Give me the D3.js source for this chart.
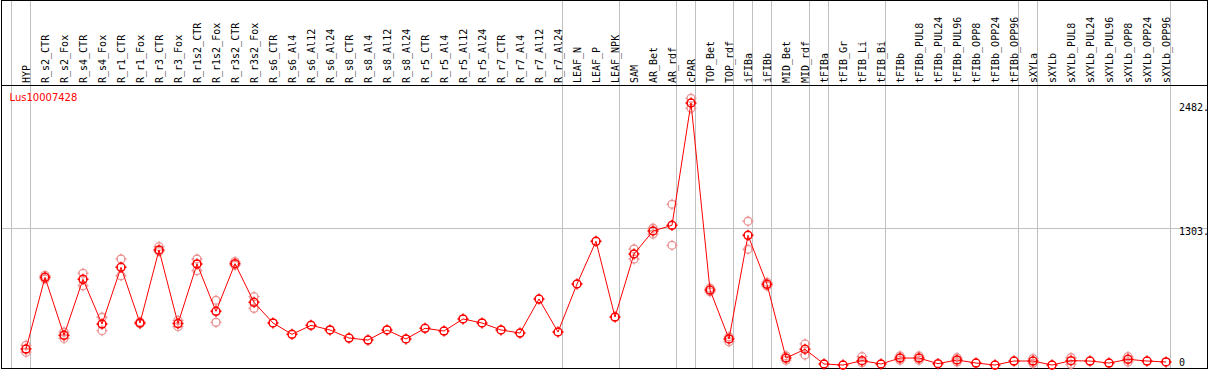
<!DOCTYPE html>
<html>
<head>
<meta charset="utf-8">
<script src="https://cdn.jsdelivr.net/npm/d3@7"></script>
<style>
  body { margin: 0; background: #fff; }
  svg { display: block; }
</style>
</head>
<body>
<svg id="chart" width="1209" height="370"></svg>
<script>
// sample names along the top
var samples = ['HYP', 'R_s2_CTR', 'R_s2_Fox', 'R_s4_CTR', 'R_s4_Fox', 'R_r1_CTR', 'R_r1_Fox',
  'R_r3_CTR', 'R_r3_Fox', 'R_r1s2_CTR', 'R_r1s2_Fox', 'R_r3s2_CTR', 'R_r3s2_Fox',
  'R_s6_CTR', 'R_s6_Al4', 'R_s6_Al12', 'R_s6_Al24', 'R_s8_CTR', 'R_s8_Al4', 'R_s8_Al12', 'R_s8_Al24',
  'R_r5_CTR', 'R_r5_Al4', 'R_r5_Al12', 'R_r5_Al24', 'R_r7_CTR', 'R_r7_Al4', 'R_r7_Al12', 'R_r7_Al24',
  'LEAF_N', 'LEAF_P', 'LEAF_NPK', 'SAM', 'AR_Bet', 'AR_rdf', 'cPAR', 'TOP_Bet', 'TOP_rdf',
  'iFIBa', 'iFIBb', 'MID_Bet', 'MID_rdf', 'tFIBa', 'tFIB_Gr', 'tFIB_Li', 'tFIB_Bi', 'tFIBb',
  'tFIBb_PUL8', 'tFIBb_PUL24', 'tFIBb_PUL96', 'tFIBb_OPP8', 'tFIBb_OPP24', 'tFIBb_OPP96',
  'sXYLa', 'sXYLb', 'sXYLb_PUL8', 'sXYLb_PUL24', 'sXYLb_PUL96', 'sXYLb_OPP8', 'sXYLb_OPP24', 'sXYLb_OPP96'];

// mean expression
var means = [160, 837, 290, 818, 396, 931, 406, 1095, 400, 963, 516, 966, 601,
  406, 299, 384, 340, 264, 245, 340, 255, 356, 330, 444, 406, 340, 311, 632, 321,
  774, 1177, 462, 1057, 1274, 1328, 2482, 717, 255, 1233, 771, 75, 158,
  19, 9, 50, 19, 75, 75, 22, 57, 28, 9, 47, 47, 9, 50, 47, 28, 63, 47, 38];

// replicates (null = none shown)
var repHigh = [195, 855, 320, 875, 460, 1010, 415, 1126, 430, 1010, 620, 985, 654,
  null, null, null, null, null, null, null, null, null, null, null, null, null, null, null, null,
  null, null, null, 1104, 1300, 1526, 2526, 735, 275, 1366, 790, 95, 208,
  null, null, 88, null, 95, 95, null, 78, null, null, null, 69, null, 78, null, null, 88, null, null];
var repLow = [130, 820, 262, 758, 333, 852, 398, 1080, 372, 900, 412, 950, 544,
  null, null, null, null, null, null, null, null, null, null, null, null, null, null, null, null,
  null, null, null, 1010, 1245, 1139, 2432, 700, 230, 1101, 755, 55, 104,
  null, null, 31, null, 55, 55, null, 38, null, null, null, 25, null, 16, null, null, 38, null, null];

// last sample index of each tissue group
var groupEnds = [-1, 0, 28, 31, 34, 35, 37, 38, 39, 41, 42, 45, 52, 53, 60];

var tickVals = [2482, 1303, 0];
var tickLabels = ['2482.', '1303.', '0'];
var geneName = 'Lus10007428';

var svg = d3.select('#chart');
var mono = "'DejaVu Sans Mono', monospace";

var x = d3.scaleLinear().domain([0, samples.length - 1]).range([26, 1166]);
var y = d3.scaleLinear().domain([0, 2482]).range([366, 103]);

// horizontal grid at middle tick
svg.append('line')
  .attr('x1', 1.5).attr('x2', 1207.5)
  .attr('y1', Math.round(y(1303)) + 0.5).attr('y2', Math.round(y(1303)) + 0.5)
  .attr('stroke', '#c0c0c0');

// group separators
svg.selectAll('line.sep')
  .data(groupEnds)
  .enter().append('line')
  .attr('class', 'sep')
  .attr('x1', function(d) { return Math.round(x(d) + 4) + 0.5; })
  .attr('x2', function(d) { return Math.round(x(d) + 4) + 0.5; })
  .attr('y1', 0).attr('y2', 369)
  .attr('stroke', '#c0c0c0');

// frame + header line
svg.append('rect')
  .attr('x', 1.5).attr('y', 0.5)
  .attr('width', 1206).attr('height', 368)
  .attr('fill', 'none').attr('stroke', '#000');
svg.append('line')
  .attr('x1', 1.5).attr('x2', 1207.5)
  .attr('y1', 85.5).attr('y2', 85.5)
  .attr('stroke', '#000');

// sample labels, rotated
svg.selectAll('text.sample')
  .data(samples)
  .enter().append('text')
  .attr('class', 'sample')
  .attr('transform', function(d, i) { return 'translate(' + (x(i) + 3.5) + ',83) rotate(-90)'; })
  .attr('font-family', mono)
  .attr('font-size', 10)
  .attr('fill', '#000')
  .text(function(d) { return d; });

// y labels (kept inside the frame)
svg.selectAll('text.ytick')
  .data(tickVals)
  .enter().append('text')
  .attr('class', 'ytick')
  .attr('x', 1179)
  .attr('y', function(d) { return Math.min(y(d) + 7.5, 366); })
  .attr('font-family', mono)
  .attr('font-size', 10)
  .attr('fill', '#000')
  .text(function(d, i) { return tickLabels[i]; });

// gene name
svg.append('text')
  .attr('x', 9.5).attr('y', 100.5)
  .attr('font-family', "'DejaVu Sans', sans-serif")
  .attr('font-size', 10)
  .attr('fill', '#ff0000')
  .text(geneName);

// marker: circle with little ticks
var markerPath = function(cx, cy) {
  var r = 4, p = d3.path();
  p.moveTo(cx + r, cy);
  p.arc(cx, cy, r, 0, 2 * Math.PI);
  p.moveTo(cx, cy - r - 1.5); p.lineTo(cx, cy - r + 1);
  p.moveTo(cx, cy + r - 1); p.lineTo(cx, cy + r + 1.5);
  p.moveTo(cx - r - 1.5, cy); p.lineTo(cx - r + 1, cy);
  p.moveTo(cx + r - 1, cy); p.lineTo(cx + r + 1.5, cy);
  return p.toString();
};

var reps = [];
samples.forEach(function(s, i) {
  if (repHigh[i] != null) reps.push({i: i, v: repHigh[i]});
  if (repLow[i] != null) reps.push({i: i, v: repLow[i]});
});

svg.selectAll('path.rep')
  .data(reps)
  .enter().append('path')
  .attr('class', 'rep')
  .attr('d', function(d) { return markerPath(x(d.i), y(d.v)); })
  .attr('fill', 'none')
  .attr('stroke', '#ec9494')
  .attr('stroke-width', 1.3);

var line = d3.line()
  .x(function(d, i) { return x(i); })
  .y(function(d) { return y(d); });

svg.append('path')
  .datum(means)
  .attr('d', line)
  .attr('fill', 'none')
  .attr('stroke', '#ff0000')
  .attr('stroke-width', 1);

svg.selectAll('path.mean')
  .data(means)
  .enter().append('path')
  .attr('class', 'mean')
  .attr('d', function(d, i) { return markerPath(x(i), y(d)); })
  .attr('fill', 'none')
  .attr('stroke', '#ff0000')
  .attr('stroke-width', 1.5);
</script>
</body>
</html>
